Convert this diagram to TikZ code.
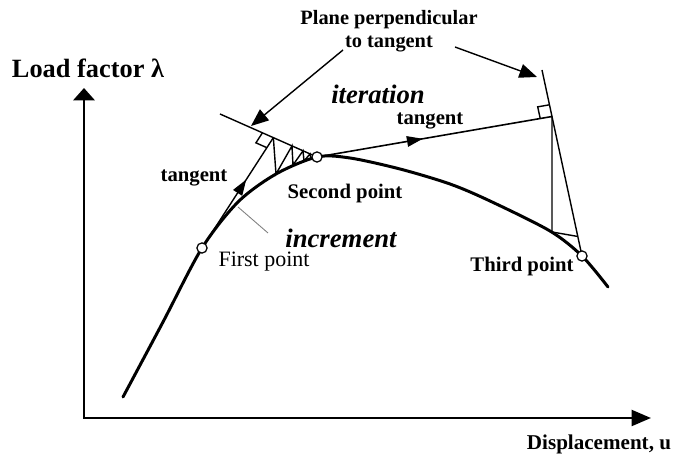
\documentclass[tikz,border=0pt]{standalone}
\usepackage{fontspec}
\setmainfont{Liberation Serif}
\usetikzlibrary{arrows.meta,calc,decorations.markings}

\begin{document}
\begin{tikzpicture}[
        x=0.02cm, y=-0.02cm,
        axis/.style={line width=1.5pt, {Triangle[length=7pt,width=12pt]}-{Triangle[length=11pt,width=9pt]}},
        curve/.style={line width=1.7pt, line cap=round},
        fine/.style={line width=0.8pt},
        pointer/.style={line width=0.8pt, -{Triangle[length=10pt,width=8pt]}},
        midarrow/.style={postaction={decorate}, decoration={markings, mark=at position #1 with {\arrow{Triangle[length=9pt,width=6pt]}}}},
        vertex/.style={circle, draw, line width=0.7pt, fill=white, inner sep=0pt, minimum size=5.8pt},
        lbl/.style={font=\bfseries\fontsize{11.8}{13}\selectfont, inner sep=0pt},
        big/.style={font=\bfseries\itshape\fontsize{15.2}{17}\selectfont, inner sep=0pt}
        ]
        \useasboundingbox (0,0) rectangle (674,455);

        % axes
        \coordinate (origin) at (84,418);
        \coordinate (ytip) at (84,88);
        \coordinate (xtip) at (651,418);
        \draw[axis] (ytip) -- (origin) -- (xtip);

        % equilibrium path
        \coordinate (first) at (202,248);
        \coordinate (second) at (317,157);
        \coordinate (third) at (582,256);
        \draw[curve] plot[smooth] coordinates {(123,397) (163,322) (202,248) (238,202) (276,174) (317,157) (350,158) (400,169) (450,184) (490,201) (550,231) (582,256) (608,287)};

        % first step: tangent, plane and iterations
        \coordinate (planeA) at (220,114);
        \coordinate (t1) at ($(planeA)!0.55!(second)$);
        \draw[fine] (planeA) -- (second);
        \draw[fine, midarrow=0.62] (first) -- (t1);
        \coordinate (b1a) at ($(t1)!6.8pt!(planeA)$);
        \coordinate (b1c) at ($(t1)!6.8pt!(first)$);
        \draw[fine] (b1a) -- ($(b1a)+(b1c)-(t1)$) -- (b1c);
        \coordinate (c1) at (276,174);
        \coordinate (q1) at ($(planeA)!0.742!(second)$);
        \coordinate (c2) at (293,165);
        \coordinate (q2) at ($(planeA)!0.856!(second)$);
        \coordinate (c3) at (304,161);
        \coordinate (q3) at ($(planeA)!0.928!(second)$);
        \coordinate (c4) at (311,159);
        \draw[fine] (t1) -- (c1) -- (q1) -- (c2) -- (q2) -- (c3) -- (q3) -- (c4);

        % second step
        \coordinate (planeB) at (542,70);
        \coordinate (t2) at ($(planeB)!0.25!(third)$);
        \draw[fine] (planeB) -- (third);
        \draw[line width=0.9pt, midarrow=0.45] (second) -- (t2);
        \coordinate (b2a) at ($(t2)!6.8pt!(second)$);
        \coordinate (b2c) at ($(t2)!6.8pt!(planeB)$);
        \draw[fine] (b2a) -- ($(b2a)+(b2c)-(t2)$) -- (b2c);
        \coordinate (c5) at (552,232);
        \coordinate (q5) at ($(planeB)!0.895!(third)$);
        \draw[fine] (t2) -- (c5) -- (q5);

        % labels
        \node[font=\bfseries\fontsize{15}{17}\selectfont, inner sep=0pt, anchor=base] (ylabel) at (88,78) {Load factor λ};
        \node[lbl, font=\bfseries\fontsize{12}{14}\selectfont, anchor=base] (xlabel) at (599,450) {Displacement, u};
        \node[lbl, font=\bfseries\fontsize{11.6}{12.8}\selectfont, align=center] (planelbl) at (389,31) {Plane perpendicular\\to tangent};
        \node[big, anchor=base] (iterlbl) at (378,104) {iteration};
        \node[big, anchor=base] (incrlbl) at (341,248) {increment};
        \node[lbl, anchor=base] (tanA) at (194,182) {tangent};
        \node[lbl, anchor=base] (tanB) at (430,125) {tangent};
        \node[lbl, anchor=base] (secondlbl) at (345,199) {Second point};
        \node[font=\fontsize{12.5}{14}\selectfont, inner sep=0pt, anchor=base] (firstlbl) at (264,267) {First point};
        \node[lbl, anchor=base] (thirdlbl) at (522,272) {Third point};

        % pointers
        \coordinate (pa1) at (343,50);
        \coordinate (pa1tip) at (251,126);
        \coordinate (pa2) at (455,47);
        \coordinate (pa2tip) at (537,77);
        \draw[pointer] (pa1) -- (pa1tip);
        \draw[pointer] (pa2) -- (pa2tip);
        \coordinate (lead) at (238,207);
        \coordinate (leadend) at (268,233);
        \draw[gray, line width=0.5pt] (lead) -- (leadend);

        % points on the path
        \node[vertex] (firstpt) at (first) {};
        \node[vertex] (secondpt) at (second) {};
        \node[vertex] (thirdpt) at (third) {};

    \end{tikzpicture}
\end{document}
